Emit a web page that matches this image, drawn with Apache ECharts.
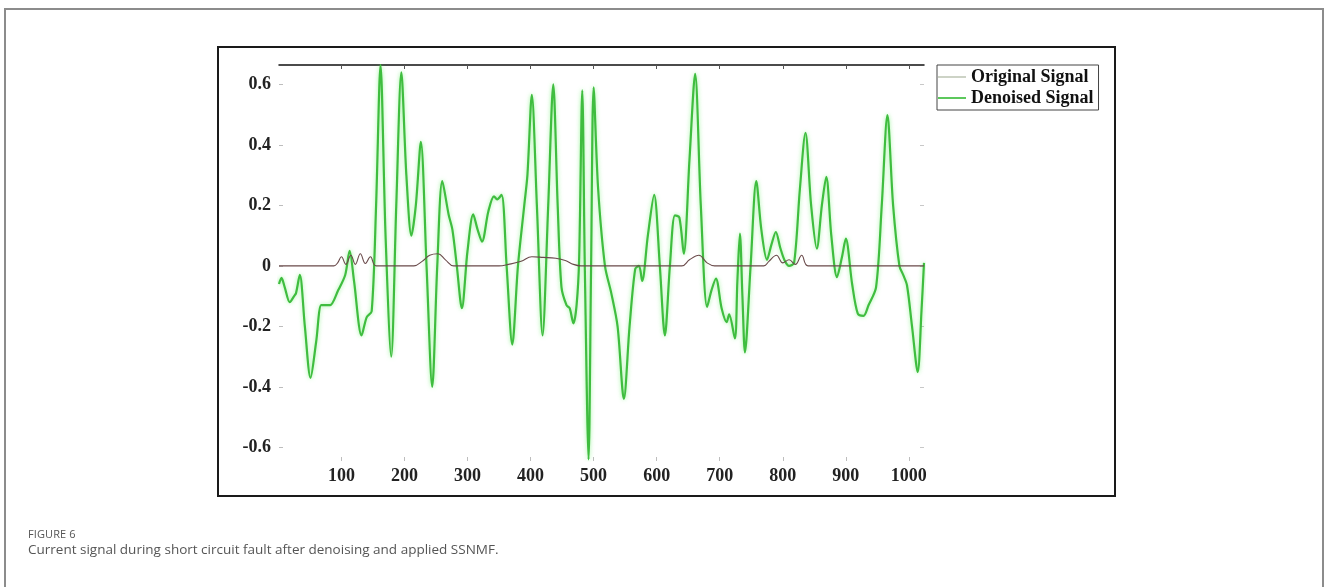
<!DOCTYPE html>
<html>
<head>
<meta charset="utf-8">
<script src="https://cdn.jsdelivr.net/npm/echarts@6/dist/echarts.min.js"></script>
<style>
  html, body { margin: 0; padding: 0; width: 1328px; height: 587px; background: #fff; overflow: hidden; }
  #page { position: absolute; left: 4px; top: 8px; width: 1320px; height: 600px; border: 2px solid #8c8c8c; border-bottom: none; box-sizing: border-box; }
  #frame { position: absolute; left: 217px; top: 46px; width: 899px; height: 451px; border: 2px solid #1a1a1a; box-sizing: border-box; }
  #chart { position: absolute; left: 0; top: 0; width: 1328px; height: 587px; }
  #figlabel { position: absolute; left: 28px; top: 526px; font-family: "Open Sans", sans-serif; font-size: 11px; color: #555; letter-spacing: 0.1px; }
  #caption { position: absolute; left: 28px; top: 540px; font-family: "Open Sans", sans-serif; font-size: 13.5px; color: #555; }
</style>
</head>
<body>
<div id="page"></div>
<div id="frame"></div>
<div id="chart"></div>
<div id="figlabel">FIGURE 6</div>
<div id="caption">Current signal during short circuit fault after denoising and applied SSNMF.</div>
<script>
// ---- data (sample index, amplitude) ----
const yTicks = [-0.6, -0.4, -0.2, 0, 0.2, 0.4, 0.6];
const xTicks = [100, 200, 300, 400, 500, 600, 700, 800, 900, 1000];

const originalSignal = [
  [1,0],[88,0],[94,0.01],[100,0.03],[107,0.005],[115,0.035],[122,0.005],[130,0.04],[138,0.008],
  [146,0.03],[155,0],[215,0],[228,0.015],[240,0.035],[253,0.04],[265,0.02],[278,0],[350,0],
  [365,0.005],[385,0.015],[402,0.03],[420,0.028],[440,0.025],[455,0.018],[468,0.005],[480,0],
  [640,0],[652,0.02],[667,0.035],[680,0.01],[692,0],[770,0],[778,0.015],[790,0.035],[800,0.01],
  [810,0.02],[820,0.005],[830,0.035],[840,0],[1024,0]
];

const denoisedSignal = [
  [1,-0.06],[5,-0.04],[10,-0.07],[18,-0.12],[25,-0.10],[28,-0.09],[34,-0.03],[42,-0.2],[51,-0.37],
  [60,-0.25],[68,-0.13],[75,-0.13],[82,-0.13],[95,-0.08],[106,-0.03],[113,0.05],[120,-0.05],
  [132,-0.23],[140,-0.17],[148,-0.15],[155,0.2],[162,0.664],[170,0.1],[179,-0.30],[187,0.2],
  [195,0.64],[203,0.3],[211,0.10],[218,0.2],[226,0.41],[235,0.0],[244,-0.40],[252,0.0],[260,0.28],
  [270,0.17],[276,0.12],[283,0.0],[291,-0.14],[300,0.05],[309,0.17],[316,0.12],[323,0.08],
  [333,0.18],[342,0.23],[347,0.22],[354,0.235],[362,0.0],[371,-0.26],[380,0.0],[390,0.2],
  [395,0.3],[402,0.565],[410,0.2],[419,-0.23],[428,0.2],[436,0.60],[443,0.2],[449,-0.07],
  [457,-0.13],[462,-0.14],[468,-0.19],[473,-0.13],[477,0.02],[482,0.58],[486,0.0],[492,-0.64],
  [496,0.0],[500,0.59],[507,0.26],[518,0.0],[528,-0.09],[538,-0.2],[548,-0.44],[557,-0.2],
  [566,-0.01],[572,0.0],[577,-0.05],[586,0.1],[596,0.235],[605,0.0],[613,-0.23],[621,0.0],
  [629,0.167],[636,0.16],[643,0.04],[652,0.35],[661,0.635],[670,0.2],[680,-0.136],[687,-0.08],
  [694,-0.042],[703,-0.14],[711,-0.186],[715,-0.16],[724,-0.24],[728,-0.05],[732,0.107],
  [736,-0.1],[740,-0.286],[749,0.0],[758,0.28],[766,0.12],[775,0.02],[782,0.07],[789,0.112],
  [796,0.06],[803,0.018],[810,0.0],[818,0.01],[827,0.25],[836,0.44],[845,0.2],[854,0.057],
  [862,0.2],[869,0.294],[877,0.1],[886,-0.037],[894,0.03],[900,0.09],[910,-0.06],[919,-0.158],
  [928,-0.165],[936,-0.13],[948,-0.07],[957,0.2],[966,0.498],[975,0.2],[985,0.0],[991,-0.03],
  [997,-0.064],[1005,-0.2],[1014,-0.351],[1020,-0.15],[1024,0.01]
];

const serifFont = "'Liberation Serif', 'DejaVu Serif', serif";
const chart = echarts.init(document.getElementById('chart'), null, { renderer: 'canvas' });

chart.setOption({
  animation: false,
  backgroundColor: 'transparent',
  grid: { left: 279, right: 404, top: 65, bottom: 126, containLabel: false },
  legend: {
    orient: 'vertical',
    left: 937, top: 65,
    padding: [3, 5, 3, 1],
    itemGap: 3,
    itemWidth: 28,
    itemHeight: 2,
    icon: 'rect',
    backgroundColor: '#fff',
    borderColor: '#444',
    borderWidth: 1,
    textStyle: { fontFamily: serifFont, fontWeight: 'bold', fontSize: 18, color: '#111' },
    data: [
      { name: 'Original Signal', itemStyle: { color: '#cdd3c6' } },
      { name: 'Denoised Signal', itemStyle: { color: '#5cc85c' } }
    ]
  },
  xAxis: [
    {
      type: 'value', position: 'bottom', min: 1, max: 1024,
      axisLine: { show: false, onZero: false },
      splitLine: { show: false },
      axisTick: { show: true, inside: true, length: 4, customValues: xTicks, lineStyle: { color: '#bdbdbd' } },
      axisLabel: { customValues: xTicks, margin: 6, fontFamily: serifFont, fontWeight: 'bold', fontSize: 18, color: '#222',
                   formatter: v => String(v) }
    },
    {
      type: 'value', position: 'top', min: 1, max: 1024,
      axisLine: { show: true, onZero: false, lineStyle: { color: '#111', width: 1.5 } },
      splitLine: { show: false },
      axisTick: { show: true, inside: true, length: 4, customValues: xTicks, lineStyle: { color: '#555' } },
      axisLabel: { show: false }
    }
  ],
  yAxis: [
    {
      type: 'value', position: 'left', min: -0.645, max: 0.664,
      axisLine: { show: false, onZero: false },
      splitLine: { show: false },
      axisTick: { show: true, inside: true, length: 4, customValues: yTicks, lineStyle: { color: '#bdbdbd' } },
      axisLabel: {
        customValues: yTicks, margin: 8, fontFamily: serifFont, fontWeight: 'bold', fontSize: 18, color: '#222',
        formatter: v => (Math.abs(v) < 1e-9 ? '0' : v.toFixed(1))
      }
    },
    {
      type: 'value', position: 'right', min: -0.645, max: 0.664,
      axisLine: { show: false, onZero: false },
      splitLine: { show: false },
      axisTick: { show: true, inside: true, length: 4, customValues: yTicks, lineStyle: { color: '#c8c8c8' } },
      axisLabel: { show: false }
    }
  ],
  series: [
    {
      name: 'Original Signal', type: 'line', xAxisIndex: 0, yAxisIndex: 0,
      data: originalSignal, symbol: 'none', smooth: 0.4,
      itemStyle: { color: '#6a4a4a' },
      lineStyle: { color: '#6a4a4a', width: 1.1 },
      z: 3
    },
    {
      name: 'Denoised Signal', type: 'line', xAxisIndex: 0, yAxisIndex: 0,
      data: denoisedSignal, symbol: 'none', smooth: 0.3,
      itemStyle: { color: '#3dbb3d' },
      lineStyle: { color: '#3fbd3f', width: 2.2, shadowColor: 'rgba(80,235,80,0.55)', shadowBlur: 4 },
      z: 2
    }
  ]
});
</script>
</body>
</html>
